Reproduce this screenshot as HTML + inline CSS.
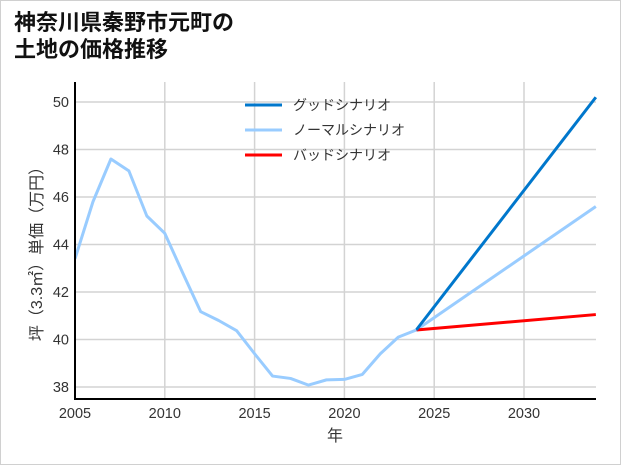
<!DOCTYPE html>
<html><head><meta charset="utf-8"><style>
html,body{margin:0;padding:0;background:#fff;}
#wrap{position:relative;width:619px;height:463px;border:1px solid #d0d0d0;background:#fff;overflow:hidden;}
#title{position:absolute;left:13px;top:8px;font:bold 22px/27px "Liberation Sans","Noto Sans CJK JP",sans-serif;color:#111;z-index:2;}
svg text{font-family:"Liberation Sans","Noto Sans CJK JP",sans-serif;}
</style></head><body>
<div id="wrap">
<div id="title">神奈川県秦野市元町の<br>土地の価格推移</div>
<svg id="chart" width="621" height="465" style="position:absolute;left:-1px;top:-1px"></svg>
</div>
<script>
const years=[2005,2006,2007,2008,2009,2010,2011,2012,2013,2014,2015,2016,2017,2018,2019,2020,2021,2022,2023,2024];
const history=[43.4,45.8,47.6,47.1,45.2,44.47,42.8,41.17,40.8,40.37,39.4,38.46,38.36,38.08,38.3,38.32,38.53,39.4,40.1,40.4];
const scenarioYears=[2024,2034];
const goodValues=[40.4,50.2];
const normalValues=[40.4,45.6];
const badValues=[40.4,41.05];
const xTicks=[2005,2010,2015,2020,2025,2030];
const yTicks=[38,40,42,44,46,48,50];
const legendLabels=["グッドシナリオ","ノーマルシナリオ","バッドシナリオ"];

const NS="http://www.w3.org/2000/svg";
const svg=document.getElementById('chart');
const L=75,R=596,T=82,B=399;
const x=v=>L+(v-2005)*(524-75)/25;
const y=v=>102+(50-v)*(387-102)/12;
function mk(t,a,p){const e=document.createElementNS(NS,t);for(const k in a)e.setAttribute(k,a[k]);(p||svg).appendChild(e);return e;}
const grid=mk('g',{});


xTicks.forEach(t=>{const l=mk('line',{x1:x(t),x2:x(t),y1:T,y2:B,stroke:'#d3d3d3','stroke-width':1.5},grid);

});
yTicks.forEach(t=>{const l=mk('line',{x1:L,x2:R,y1:y(t),y2:y(t),stroke:'#d3d3d3','stroke-width':1.5},grid);

});
function line(xs,vs,c,name){const p=mk('polyline',{points:xs.map((v,i)=>x(v)+','+y(vs[i])).join(' '),fill:'none',stroke:c,'stroke-width':3,'stroke-linejoin':'round'});

}
line(scenarioYears,normalValues,'#99ccff','normal-scenario-line');
line(scenarioYears,badValues,'#ff0000','bad-scenario-line');
line(scenarioYears,goodValues,'#0077cc','good-scenario-line');
line(years,history,'#99ccff','historical-line');
mk('rect',{x:0,y:T,width:L-1,height:B-T,fill:'#fff'});
const ax1=mk('line',{x1:L,x2:L,y1:T,y2:B+1,stroke:'#000','stroke-width':2});


const ax2=mk('line',{x1:L-1,x2:R,y1:B,y2:B,stroke:'#000','stroke-width':2});


xTicks.forEach(t=>{const tx=mk('text',{x:x(t),y:418,'text-anchor':'middle','font-size':14.5,fill:'#333'});tx.textContent=t;

});
yTicks.forEach(t=>{const tx=mk('text',{x:69,y:y(t)+5,'text-anchor':'end','font-size':14.5,fill:'#333'});tx.textContent=t;

});
const xt=mk('text',{x:335,y:441,'text-anchor':'middle','font-size':16,fill:'#333'});xt.textContent='年';


const yt=mk('text',{x:0,y:0,'text-anchor':'middle','font-size':16,fill:'#333',transform:'translate(42,250) rotate(-90)'});yt.textContent='坪（3.3㎡）単価（万円）';


const cols=['#0077cc','#99ccff','#ff0000'];
legendLabels.forEach((s,i)=>{const g=mk('g',{});


const yy=105+i*25;mk('line',{x1:245,x2:282,y1:yy,y2:yy,stroke:cols[i],'stroke-width':3},g);
const tx=mk('text',{x:293,y:yy+5,'font-size':14,fill:'#333'},g);tx.textContent=s;});
</script>
</body></html>
